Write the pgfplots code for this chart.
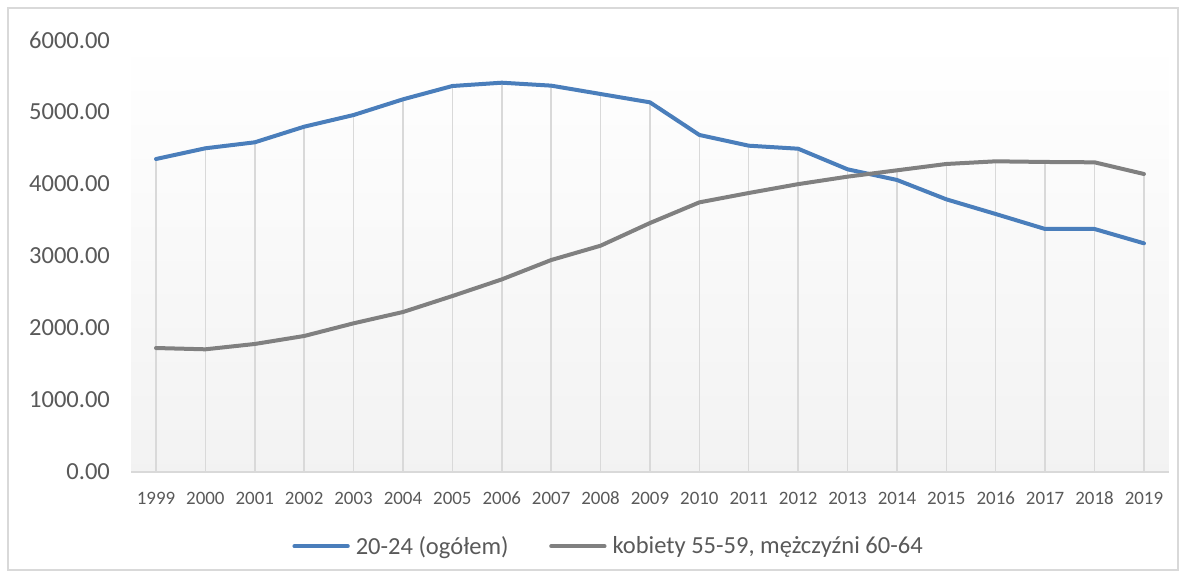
\documentclass[border=0pt]{standalone}
\usepackage{pgfplots}
\pgfplotsset{compat=1.18}
\usepackage{pgfplotstable}
\usepackage{fontspec}
\setmainfont{Carlito}
\definecolor{sblue}{RGB}{74,126,187}
\definecolor{sgray}{RGB}{128,128,128}
\definecolor{txt}{RGB}{89,89,89}
\definecolor{gridc}{RGB}{217,217,217}
\definecolor{bord}{RGB}{217,217,217}

\pgfplotstableread{
year a b
1999 4347 1722
2000 4496 1704
2001 4579 1778
2002 4796 1889
2003 4958 2065
2004 5176 2222
2005 5361 2444
2006 5407 2675
2007 5366 2944
2008 5250 3143
2009 5134 3458
2010 4681 3745
2011 4532 3875
2012 4490 3998
2013 4204 4102
2014 4056 4190
2015 3787 4278
2016 3583 4315
2017 3375 4306
2018 3375 4301
2019 3176 4139
}\data

\begin{document}
\begin{tikzpicture}
\useasboundingbox (0pt,0pt) rectangle (889.5pt,433.5pt);
\draw[bord, line width=1pt] (6pt,6pt) rectangle (883.5pt,427.5pt);
\begin{axis}[
  at={(98.475pt,79.5pt)}, anchor=south west,
  scale only axis, width=778pt, height=324pt,
  xmin=1998.5, xmax=2019.5, ymin=0, ymax=6000,
  axis x line*=bottom, axis y line*=left,
  x axis line style={gridc, line width=1.1pt, -},
  y axis line style={draw=none},
  major tick length=0pt,
  xtick={1999,2000,...,2019},
  ytick={0,1000,...,6000},
  /pgf/number format/assume math mode=true,
  x tick label style={/pgf/number format/1000 sep={}, font=\fontsize{14.2}{17}\selectfont, text=txt, yshift=-11.5pt},
  y tick label style={/pgf/number format/.cd, fixed, fixed zerofill, precision=2, 1000 sep={}, /tikz/.cd, font=\fontsize{18.4}{22}\selectfont, text=txt, xshift=-12.5pt},
  axis background/.style={top color=white, bottom color=black!5},
  legend style={at={(0.462,-0.172)}, anchor=center, draw=none, fill=none,
    font=\fontsize{18.4}{22}\selectfont, text=txt,
    nodes={inner xsep=4.5pt},
    /tikz/every even column/.append style={column sep=26pt}},
  legend columns=2,
  legend image code/.code={\draw[#1] (0pt,0pt) -- (40pt,0pt);},
  clip=false,
]
\addplot[ycomb, gridc, line width=1.1pt, forget plot] table[x=year, y expr={max(\thisrow{a},\thisrow{b})}] {\data};
\addplot[sblue, line width=3pt, line join=round, line cap=round] table[x=year, y=a] {\data};
\addlegendentry{20-24 (ogółem)}
\addplot[sgray, line width=3pt, line join=round, line cap=round] table[x=year, y=b] {\data};
\addlegendentry{kobiety 55-59, mężczyźni 60-64}
\end{axis}
\end{tikzpicture}
\end{document}
